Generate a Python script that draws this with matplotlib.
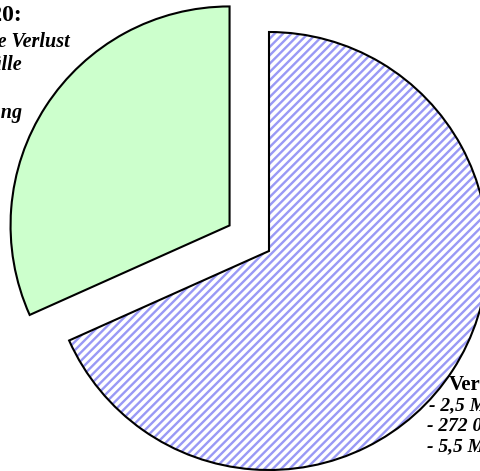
import matplotlib
matplotlib.use("Agg")
import matplotlib.pyplot as plt

# data
labels = ["Verlust", "kein Verlust"]
values = [68.3, 31.7]
fill_colors = ["white", "#ccffcc"]
hatches = ["////", None]
explode = [0.0, 47.0]

left_lines = ["Jahr 2020:", "- keine Verlust", "  Fälle", "", "  Meldung"]
right_lines = ["Verluste:", "- 2,5 Mio.", "- 272 000", "- 5,5 Mio."]

W, H = 481, 471
fig = plt.figure(figsize=(W / 100, H / 100), dpi=100)
ax = fig.add_axes([0, 0, 1, 1])

plt.rcParams["hatch.linewidth"] = 1.7
plt.rcParams["hatch.color"] = "#9999f5"

cx, cy, r = 269, H - 251, 219

wedges, _ = ax.pie(values, colors=fill_colors, explode=explode, startangle=90,
                   counterclock=False, center=(cx, cy), radius=r, frame=True,
                   wedgeprops=dict(linewidth=0))
for w, h in zip(wedges, hatches):
    if h:
        w.set_hatch(h)
        w.set_edgecolor("#9999f5")
        w.set_linewidth(0)

ax.pie(values, colors=["none", "none"], explode=explode, startangle=90,
       counterclock=False, center=(cx, cy), radius=r, frame=True,
       wedgeprops=dict(linewidth=1.5, edgecolor="black", facecolor="none"))
ax.set_xlim(0, W)
ax.set_ylim(0, H)
ax.set_aspect("equal")
ax.axis("off")

serif = "Liberation Serif"
# left text (right-aligned, partially off canvas)
ax.text(22, H - 21, left_lines[0], ha="right", va="baseline", fontsize=17,
        fontweight="bold", family=serif)
ax.text(70, H - 47, left_lines[1], ha="right", va="baseline", fontsize=14.5,
        fontweight="bold", style="italic", family=serif)
ax.text(22, H - 70, left_lines[2], ha="right", va="baseline", fontsize=14.5,
        fontweight="bold", style="italic", family=serif)
ax.text(22, H - 118, left_lines[4], ha="right", va="baseline", fontsize=14.5,
        fontweight="bold", style="italic", family=serif)

# right text (left-aligned, partially off canvas)
ax.text(449, H - 390, right_lines[0], ha="left", va="baseline", fontsize=15,
        fontweight="bold", family=serif)
ax.text(429, H - 410, right_lines[1], ha="left", va="baseline", fontsize=14,
        fontweight="bold", style="italic", family=serif)
ax.text(427, H - 431, right_lines[2], ha="left", va="baseline", fontsize=14,
        fontweight="bold", style="italic", family=serif)
ax.text(427, H - 451, right_lines[3], ha="left", va="baseline", fontsize=14,
        fontweight="bold", style="italic", family=serif)

fig.savefig("out.png", dpi=100)
